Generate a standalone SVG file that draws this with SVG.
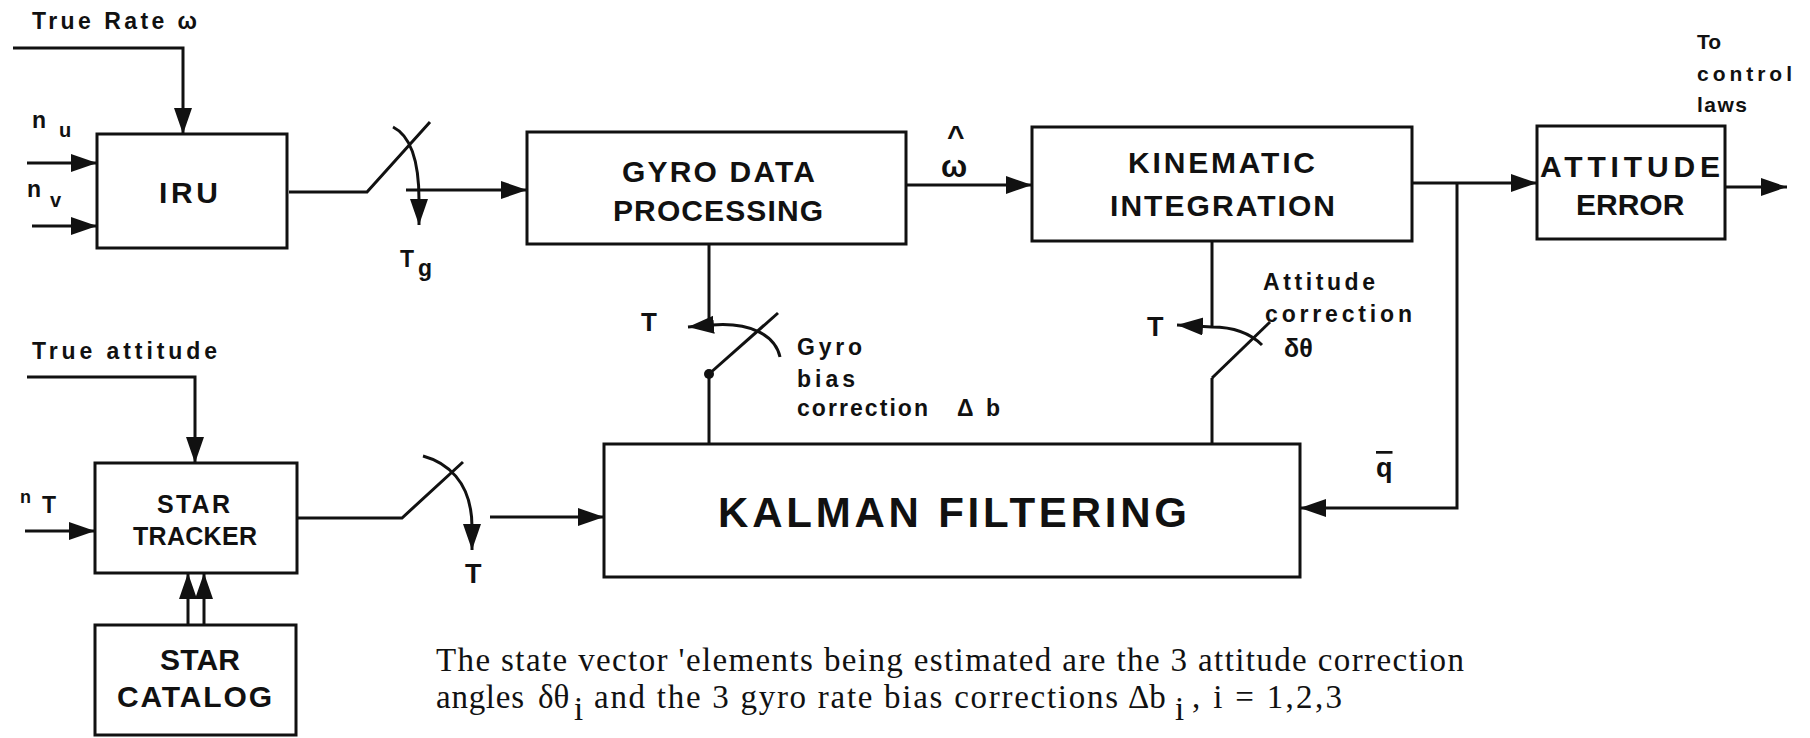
<svg xmlns="http://www.w3.org/2000/svg" width="1810" height="738" viewBox="0 0 1810 738">
  <style>
    .box { fill: none; stroke: #111; stroke-width: 3; }
    .ln { fill: none; stroke: #111; stroke-width: 3; }
    .arr { marker-end: url(#head); }
    .lbl { font-family: "Liberation Sans", Arial, sans-serif; font-weight: bold; fill: #111; }
    .cap { font-size: 30px; }
    .sm { font-size: 23px; }
    .note { font-size: 23px; }
    .body { font-family: "Liberation Serif", "Times New Roman", serif; font-size: 33px; fill: #111; }
  </style>
  <defs>
    <marker id="head" markerUnits="userSpaceOnUse" markerWidth="27" markerHeight="19" refX="26" refY="9" orient="auto" viewBox="0 0 27 19">
      <path d="M0,0 L26,9 L0,18 Z" fill="#111"/>
    </marker>
  </defs>

  <!-- signal paths -->
  <g id="connectors">
    <!-- sensor inputs -->
    <polyline class="ln arr" points="13,48 183,48 183,134"/>
    <line class="ln arr" x1="27" y1="163" x2="97" y2="163"/>
    <line class="ln arr" x1="32" y1="226" x2="97" y2="226"/>
    <polyline class="ln arr" points="27,377 195,377 195,463"/>
    <line class="ln arr" x1="25" y1="531" x2="95" y2="531"/>
    <line class="ln arr" x1="188" y1="625" x2="188" y2="573"/>
    <line class="ln arr" x1="204" y1="625" x2="204" y2="573"/>

    <!-- gyro sampler Tg -->
    <polyline class="ln" points="289,192 367,192 430,122"/>
    <path class="ln arr" d="M393,127 C405,133 419,150 419,200 L419,225"/>
    <line class="ln arr" x1="406" y1="190" x2="527" y2="190"/>

    <!-- star tracker sampler T -->
    <polyline class="ln" points="297,518 402,518 463,462"/>
    <path class="ln arr" d="M423,456 C445,462 472,480 472,527 L472,550"/>
    <line class="ln arr" x1="490" y1="517" x2="604" y2="517"/>

    <!-- forward chain -->
    <line class="ln arr" x1="906" y1="185" x2="1032" y2="185"/>
    <line class="ln arr" x1="1412" y1="183" x2="1537" y2="183"/>
    <line class="ln arr" x1="1725" y1="187" x2="1787" y2="187"/>

    <!-- attitude feedback q -->
    <polyline class="ln arr" points="1457,183 1457,508 1300,508"/>

    <!-- gyro bias correction switch -->
    <line class="ln" x1="709" y1="244" x2="709" y2="325"/>
    <path class="ln arr" d="M780,357 C775,335 750,322 712,325 L688,327"/>
    <line class="ln" x1="709" y1="374" x2="778" y2="313"/>
    <circle cx="709" cy="374" r="5" fill="#111"/>
    <line class="ln" x1="709" y1="374" x2="709" y2="444"/>

    <!-- attitude correction switch -->
    <line class="ln" x1="1212" y1="241" x2="1212" y2="327"/>
    <path class="ln arr" d="M1262,345 C1250,333 1235,327 1212,327 L1177,325"/>
    <line class="ln" x1="1212" y1="378" x2="1270" y2="322"/>
    <line class="ln" x1="1212" y1="378" x2="1212" y2="444"/>
  </g>

  <g id="iru">
    <rect class="box" x="97" y="134" width="190" height="114"/>
    <text class="lbl cap" x="159" y="203" textLength="59">IRU</text>
  </g>

  <g id="gyro-data-processing">
    <rect class="box" x="527" y="132" width="379" height="112"/>
    <text class="lbl cap" x="622" y="182" textLength="193">GYRO DATA</text>
    <text class="lbl cap" x="613" y="221" textLength="210">PROCESSING</text>
  </g>

  <g id="kinematic-integration">
    <rect class="box" x="1032" y="127" width="380" height="114"/>
    <text class="lbl cap" x="1128" y="173" textLength="187">KINEMATIC</text>
    <text class="lbl cap" x="1110" y="216" textLength="225">INTEGRATION</text>
  </g>

  <g id="attitude-error">
    <rect class="box" x="1537" y="126" width="188" height="113"/>
    <text class="lbl cap" x="1540" y="177" textLength="180">ATTITUDE</text>
    <text class="lbl cap" x="1576" y="215">ERROR</text>
  </g>

  <g id="kalman-filtering">
    <rect class="box" x="604" y="444" width="696" height="133"/>
    <text class="lbl" font-size="42" x="718" y="527" textLength="469">KALMAN FILTERING</text>
  </g>

  <g id="star-tracker">
    <rect class="box" x="95" y="463" width="202" height="110"/>
    <text class="lbl" font-size="25" x="157" y="513" textLength="73">STAR</text>
    <text class="lbl" font-size="25" x="133" y="545" textLength="124">TRACKER</text>
  </g>

  <g id="star-catalog">
    <rect class="box" x="95" y="625" width="201" height="110"/>
    <text class="lbl cap" x="160" y="670" textLength="80">STAR</text>
    <text class="lbl cap" x="117" y="707" textLength="155">CATALOG</text>
  </g>

  <!-- signal labels -->
  <g id="labels">
    <text class="lbl sm" x="32" y="29" textLength="165">True Rate ω</text>
    <text class="lbl sm" x="32" y="128">n</text>
    <text class="lbl" font-size="20" x="59" y="137">u</text>
    <text class="lbl sm" x="27" y="197">n</text>
    <text class="lbl" font-size="20" x="50" y="207">v</text>
    <text class="lbl sm" x="400" y="267">T</text>
    <text class="lbl sm" x="418" y="276">g</text>

    <text class="lbl cap" x="947" y="146">^</text>
    <text class="lbl" font-size="31" x="941" y="177">ω</text>

    <text class="lbl" font-size="21" x="1697" y="49">To</text>
    <text class="lbl" font-size="21" x="1697" y="81" textLength="95">control</text>
    <text class="lbl" font-size="21" x="1697" y="112" textLength="50">laws</text>

    <text class="lbl" font-size="26" x="641" y="331">T</text>
    <text class="lbl note" x="797" y="355" textLength="65">Gyro</text>
    <text class="lbl note" x="797" y="387" textLength="58">bias</text>
    <text class="lbl note" x="797" y="416" textLength="131">correction</text>
    <text class="lbl note" x="957" y="416">Δ</text>
    <text class="lbl note" x="986" y="416">b</text>

    <text class="lbl" font-size="27" x="1147" y="336">T</text>
    <text class="lbl note" x="1263" y="290" textLength="112">Attitude</text>
    <text class="lbl note" x="1265" y="322" textLength="147">correction</text>
    <text class="lbl" font-size="25" x="1284" y="357">δθ</text>

    <text class="lbl" font-size="27" x="1376" y="477" text-decoration="overline">q</text>

    <text class="lbl sm" x="32" y="359" textLength="185">True attitude</text>
    <text class="lbl" font-size="18" x="20" y="503">n</text>
    <text class="lbl sm" x="42" y="513">T</text>
    <text class="lbl" font-size="27" x="465" y="583">T</text>
  </g>

  <!-- caption -->
  <g id="caption">
    <text class="body" x="436" y="671" textLength="1028">The state vector 'elements being estimated are the 3 attitude correction</text>
    <text class="body" x="436" y="708" textLength="88">angles</text>
    <text class="body" x="538" y="708">δθ</text>
    <text class="body" font-size="20" x="574" y="720">i</text>
    <text class="body" x="594" y="708" textLength="524">and the 3 gyro rate bias corrections</text>
    <text class="body" x="1128" y="708">Δb</text>
    <text class="body" font-size="20" x="1175" y="720">i</text>
    <text class="body" x="1192" y="708" textLength="150">, i = 1,2,3</text>
  </g>
</svg>
